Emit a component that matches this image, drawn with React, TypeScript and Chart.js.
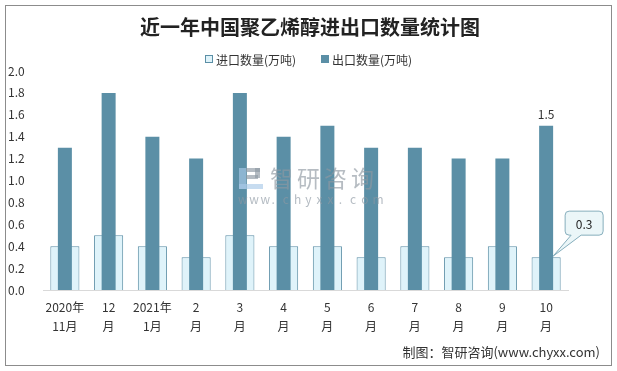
import React, { useEffect, useRef } from "react";
import { Chart, registerables } from "chart.js";

Chart.register(...registerables);

const categories: string[][] = [
  ["2020年", "11月"], ["12", "月"], ["2021年", "1月"], ["2", "月"], ["3", "月"], ["4", "月"],
  ["5", "月"], ["6", "月"], ["7", "月"], ["8", "月"], ["9", "月"], ["10", "月"],
];
const importValues = [0.4, 0.5, 0.4, 0.3, 0.5, 0.4, 0.4, 0.3, 0.4, 0.3, 0.4, 0.3];
const exportValues = [1.3, 1.8, 1.4, 1.2, 1.8, 1.4, 1.5, 1.3, 1.3, 1.2, 1.2, 1.5];
const seriesNames = ["进口数量(万吨)", "出口数量(万吨)"];
const titleText = "近一年中国聚乙烯醇进出口数量统计图";
const footerText = "制图：智研咨询(www.chyxx.com)";

const FONT = "'Noto Sans CJK SC', 'Noto Sans', sans-serif";
const IMPORT_FILL = "#dff3fa";
const LINE_COLOR = "#5b8fa6";

const decorPlugin = {
  id: "decor",
  beforeDraw(chart: any) {
    const ctx = chart.ctx;
    ctx.save();
    ctx.fillStyle = "#ffffff";
    ctx.fillRect(0, 0, chart.width, chart.height);
    ctx.restore();
  },
  afterDatasetsDraw(chart: any) {
    const ctx = chart.ctx;
    ctx.save();
    // watermark
    ctx.globalAlpha = 0.65;
    ctx.fillStyle = "#8f98a1";
    ctx.font = `23px ${FONT}`;
    ctx.textBaseline = "middle";
    ctx.textAlign = "left";
    const chars = "智研咨询";
    let tx = 270;
    for (const ch of chars) {
      ctx.fillText(ch, tx, 178);
      tx += 27;
    }
    // logo
    ctx.fillStyle = "#a9c9e8";
    ctx.fillRect(239, 168, 7, 21);
    ctx.fillRect(239, 184, 24, 5);
    ctx.fillStyle = "#8d98a3";
    ctx.fillRect(246, 168, 14, 4);
    ctx.fillRect(255, 168, 5, 10);
    ctx.fillRect(246, 175, 12, 4);
    ctx.fillStyle = "#8d98a3";
    ctx.font = `12px ${FONT}`;
    const wm = "www.chyxx.com";
    let x = 238;
    for (const ch of wm) {
      ctx.fillText(ch, x, 199);
      x += 11.2;
    }
    ctx.restore();
  },
  afterDraw(chart: any) {
    const ctx = chart.ctx;
    ctx.save();
    // border
    ctx.strokeStyle = "#8c8c8c";
    ctx.lineWidth = 1;
    ctx.strokeRect(5.5, 5.5, 606, 360);

    // title
    ctx.fillStyle = "#222222";
    ctx.font = `bold 20px ${FONT}`;
    ctx.textAlign = "center";
    ctx.textBaseline = "middle";
    ctx.fillText(titleText, 310, 27);

    // legend
    ctx.font = `12px ${FONT}`;
    ctx.textAlign = "left";
    ctx.fillStyle = IMPORT_FILL;
    ctx.fillRect(205.5, 55.5, 7, 7);
    ctx.strokeStyle = LINE_COLOR;
    ctx.strokeRect(205.5, 55.5, 7, 7);
    ctx.fillStyle = "#333333";
    ctx.fillText(seriesNames[0], 216, 60);
    ctx.fillStyle = LINE_COLOR;
    ctx.fillRect(321, 55, 8, 8);
    ctx.fillStyle = "#333333";
    ctx.fillText(seriesNames[1], 332, 60);

    // footer
    ctx.fillStyle = "#333333";
    ctx.font = `13px ${FONT}`;
    ctx.textAlign = "right";
    ctx.textBaseline = "middle";
    ctx.fillText(footerText, 600, 352);

    const xs = chart.scales.x;
    const ys = chart.scales.y;
    const last = categories.length - 1;
    // label above last export bar
    ctx.fillStyle = "#333333";
    ctx.font = `12px ${FONT}`;
    ctx.textAlign = "center";
    ctx.textBaseline = "bottom";
    const ex = xs.getPixelForValue(last);
    const ey = ys.getPixelForValue(exportValues[last]);
    ctx.fillText(String(exportValues[last]), ex, ey - 5);

    // callout for last import bar
    const ix = xs.getPixelForValue(last) + 7;
    const iy = ys.getPixelForValue(importValues[last]) - 1;
    const bx = ix + 12, by = iy - 45, bw = 38, bh = 24, r = 4;
    ctx.beginPath();
    ctx.moveTo(bx + r, by);
    ctx.lineTo(bx + bw - r, by);
    ctx.quadraticCurveTo(bx + bw, by, bx + bw, by + r);
    ctx.lineTo(bx + bw, by + bh - r);
    ctx.quadraticCurveTo(bx + bw, by + bh, bx + bw - r, by + bh);
    ctx.lineTo(bx + 16, by + bh);
    ctx.lineTo(ix, iy);
    ctx.lineTo(bx + 6, by + bh);
    ctx.lineTo(bx + r, by + bh);
    ctx.quadraticCurveTo(bx, by + bh, bx, by + bh - r);
    ctx.lineTo(bx, by + r);
    ctx.quadraticCurveTo(bx, by, bx + r, by);
    ctx.closePath();
    ctx.fillStyle = "#ebf6f8";
    ctx.fill();
    ctx.strokeStyle = "#86aebd";
    ctx.stroke();
    ctx.fillStyle = "#222222";
    ctx.textBaseline = "middle";
    ctx.fillText(String(importValues[last]), bx + bw / 2, by + bh / 2 + 1);
    ctx.restore();
  },
};

export default function App() {
  const ref = useRef<HTMLCanvasElement>(null);
  useEffect(() => {
    document.body.style.margin = "0";
    const chart = new Chart(ref.current as HTMLCanvasElement, {
      type: "bar",
      data: {
        labels: categories,
        datasets: [
          {
            label: seriesNames[0],
            data: importValues,
            backgroundColor: IMPORT_FILL,
            borderColor: LINE_COLOR,
            borderWidth: 1,
            barPercentage: 0.665,
            categoryPercentage: 1,
            grouped: false,
            order: 1,
          } as any,
          {
            label: seriesNames[1],
            data: exportValues,
            backgroundColor: LINE_COLOR,
            borderColor: LINE_COLOR,
            borderWidth: 0,
            barPercentage: 0.32,
            categoryPercentage: 1,
            grouped: false,
            order: 0,
          } as any,
        ],
      },
      options: {
        responsive: false,
        animation: false,
        layout: { padding: { left: 8, right: 49, top: 71, bottom: 36 } },
        plugins: {
          title: { display: false },
          legend: { display: false },
          tooltip: { enabled: false },
        },
        scales: {
          x: {
            grid: { display: false, drawTicks: false },
            border: { display: true, color: "#d9d9d9", width: 1 },
            ticks: {
              color: "#333333",
              font: { family: FONT, size: 12, lineHeight: 1.6 },
              padding: 8,
              maxRotation: 0,
              autoSkip: false,
            },
            afterFit: (s: any) => { s.height = 45; },
          },
          y: {
            min: 0,
            max: 2.0,
            grid: { display: false, drawTicks: false },
            border: { display: false },
            ticks: {
              stepSize: 0.2,
              color: "#333333",
              font: { family: FONT, size: 12 },
              crossAlign: "far",
              callback: (v: any) => Number(v).toFixed(1),
            },
            afterFit: (s: any) => { s.width = 35; },
          },
        },
      },
      plugins: [decorPlugin],
    });
    return () => chart.destroy();
  }, []);
  return (
    <div style={{ width: 617, height: 371 }}>
      <canvas ref={ref} width={617} height={371} style={{ display: "block" }} />
    </div>
  );
}
